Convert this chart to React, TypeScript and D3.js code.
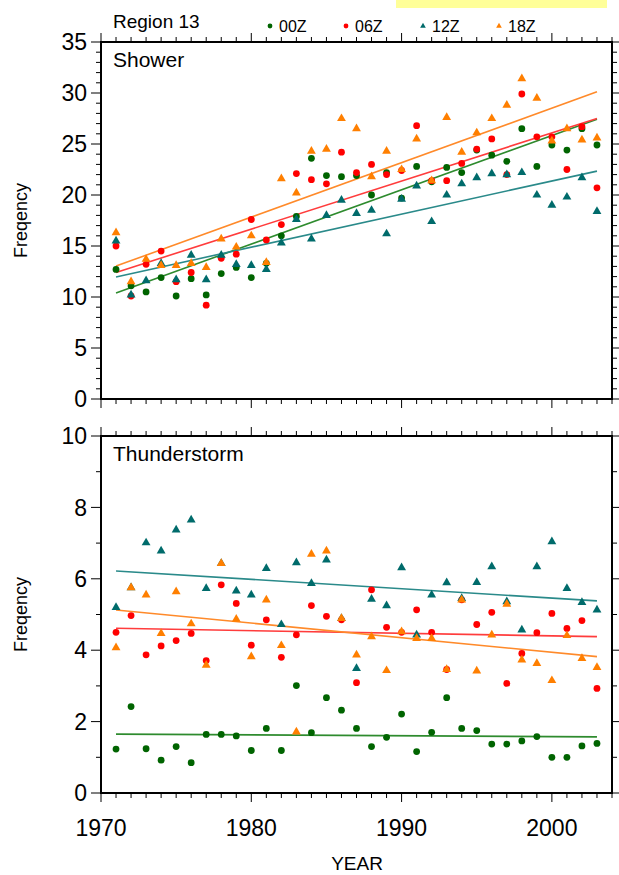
import React from "react";
import * as d3 from "d3";

const years = d3.range(1971, 2004);

// Shower (upper panel)
const shower00 = [12.7, 11.1, 10.5, 11.9, 10.1, 11.8, 10.2, 12.3, 12.9, 11.9, 13.3, 16.0, 17.9, 23.6, 21.9, 21.8, 21.9, 20.0, 22.2, 19.7, 22.8, 21.3, 22.7, 22.2, 24.4, 23.9, 23.3, 26.5, 22.8, 24.9, 24.4, 26.5, 24.9];
const shower06 = [15.0, 10.1, 13.2, 14.5, 11.5, 12.4, 9.2, 13.8, 14.2, 17.6, 15.6, 17.1, 22.1, 21.5, 21.1, 24.2, 22.2, 23.0, 22.0, 22.4, 26.8, 21.4, 21.4, 23.1, 24.5, 25.5, 22.0, 29.9, 25.7, 25.7, 22.5, 26.7, 20.7];
const shower12 = [15.5, 10.2, 11.6, 13.3, 11.7, 14.1, 11.7, 14.1, 13.2, 13.1, 12.7, 15.3, 17.6, 15.7, 18.0, 19.5, 18.2, 18.5, 16.2, 19.6, 20.9, 17.4, 20.0, 21.1, 21.7, 22.1, 22.0, 22.2, 20.0, 19.0, 19.8, 21.7, 18.4];
const shower18 = [16.3, 11.5, 13.7, 13.1, 13.1, 13.3, 12.9, 15.7, 14.9, 16.0, 13.4, 21.6, 20.2, 24.3, 24.5, 27.5, 26.5, 21.8, 24.3, 22.5, 25.5, 21.4, 27.6, 24.2, 26.1, 27.5, 28.8, 31.4, 29.5, 25.3, 26.5, 25.4, 25.6];

// Thunderstorm (lower panel)
const thunder00 = [1.23, 2.42, 1.24, 0.92, 1.30, 0.85, 1.64, 1.64, 1.60, 1.19, 1.81, 1.19, 3.01, 1.69, 2.67, 2.32, 1.81, 1.30, 1.56, 2.21, 1.16, 1.70, 2.67, 1.81, 1.75, 1.37, 1.37, 1.46, 1.58, 1.00, 1.00, 1.32, 1.39];
const thunder06 = [4.50, 4.97, 3.87, 4.12, 4.27, 4.47, 3.71, 5.83, 5.31, 4.14, 4.85, 3.80, 4.43, 5.25, 4.95, 4.85, 3.09, 5.69, 4.64, 4.50, 5.13, 4.50, 3.46, 5.41, 4.72, 5.06, 3.07, 3.91, 4.49, 5.03, 4.61, 4.83, 2.93];
const thunder12 = [5.20, 5.75, 7.01, 6.78, 7.37, 7.65, 5.73, 6.43, 5.66, 5.55, 6.29, 4.72, 6.45, 5.87, 6.53, 4.89, 3.49, 5.43, 5.25, 6.31, 4.43, 5.55, 5.89, 5.45, 5.90, 6.34, 5.36, 4.57, 6.34, 7.04, 5.73, 5.34, 5.13];
const thunder18 = [4.07, 5.75, 5.55, 4.47, 5.64, 4.74, 3.58, 6.43, 4.87, 3.82, 5.41, 4.13, 1.71, 6.69, 6.78, 4.89, 3.87, 4.38, 3.43, 4.52, 4.33, 4.33, 3.46, 5.41, 3.42, 4.43, 5.29, 3.73, 3.63, 3.15, 4.41, 3.77, 3.52];

const seriesNames = ["00Z", "06Z", "12Z", "18Z"];
const pointColors = ["#006400", "#ff0000", "#006b6b", "#ff7f00"];
const lineColors = ["#2e8b2e", "#ff3c3c", "#2a8a8a", "#ff8a2a"];
const isTriangle = [false, false, true, true];

const FONT = "'Liberation Sans', Arial, Helvetica, sans-serif";

function fit(xs: number[], ys: number[]) {
  const mx = d3.mean(xs)!;
  const my = d3.mean(ys)!;
  let sxy = 0, sxx = 0;
  xs.forEach((x, i) => { sxy += (x - mx) * (ys[i] - my); sxx += (x - mx) * (x - mx); });
  const b = sxy / sxx;
  return (x: number) => my + b * (x - mx);
}

const x = d3.scaleLinear().domain([1970, 2004]).range([101, 612]);

function Panel({ y, data, title, major, minor, labelFmt }: any) {
  const [y0, y1] = y.range();
  const top = y1, bottom = y0;
  const left = x.range()[0], right = x.range()[1];
  const xMinor = d3.range(1970, 2005, 1);
  const xMajor = [1970, 1980, 1990, 2000];
  const tri = d3.symbol().type(d3.symbolTriangle).size(34)();
  return (
    <g>
      {/* regression lines */}
      {data.map((vals: number[], i: number) => {
        const f = fit(years, vals);
        return (
          <line key={"l" + i} x1={x(years[0])} x2={x(years[years.length - 1])}
            y1={y(f(years[0]))} y2={y(f(years[years.length - 1]))}
            stroke={lineColors[i]} strokeWidth={1.6} />
        );
      })}
      {/* points */}
      {data.map((vals: number[], i: number) => (
        <g key={"p" + i}>
          {vals.map((v, j) => isTriangle[i] ? (
            <path key={j} d={tri!} transform={`translate(${x(years[j])},${y(v)})`} fill={pointColors[i]} />
          ) : (
            <circle key={j} cx={x(years[j])} cy={y(v)} r={3.4} fill={pointColors[i]} />
          ))}
        </g>
      ))}
      {/* frame */}
      <rect x={left} y={top} width={right - left} height={bottom - top} fill="none" stroke="#000" strokeWidth={2} />
      {/* x ticks top and bottom */}
      {xMinor.map((t) => {
        const len = xMajor.includes(t) ? 9 : 5;
        return (
          <g key={"xt" + t}>
            <line x1={x(t)} x2={x(t)} y1={bottom} y2={bottom + len} stroke="#000" strokeWidth={1} />
            <line x1={x(t)} x2={x(t)} y1={top} y2={top - len} stroke="#000" strokeWidth={1} />
          </g>
        );
      })}
      {/* y ticks left and right */}
      {minor.map((t: number) => {
        const len = major.includes(t) ? 10 : 5;
        return (
          <g key={"yt" + t}>
            <line x1={left} x2={left - len} y1={y(t)} y2={y(t)} stroke="#000" strokeWidth={1} />
            <line x1={right} x2={right + len} y1={y(t)} y2={y(t)} stroke="#000" strokeWidth={1} />
          </g>
        );
      })}
      {major.map((t: number) => (
        <text key={"yl" + t} x={left - 14} y={y(t)} dy="0.36em" textAnchor="end"
          fontFamily={FONT} fontSize={23} fill="#000">{labelFmt(t)}</text>
      ))}
      <text x={113} y={top + 25} fontFamily={FONT} fontSize={21} fill="#000">{title}</text>
      <text transform={`translate(27,${(top + bottom) / 2}) rotate(-90)`} textAnchor="middle"
        fontFamily={FONT} fontSize={18} fill="#000">Freqency</text>
    </g>
  );
}

export default function App() {
  const yTop = d3.scaleLinear().domain([0, 35]).range([399, 42]);
  const yBot = d3.scaleLinear().domain([0, 10]).range([793, 436]);
  const tri = d3.symbol().type(d3.symbolTriangle).size(14)();
  const legendX = [270, 346, 423, 499];
  return (
    <svg width={619} height={875} style={{ position: "absolute", left: 0, top: 0, background: "#fff" }}>
      <rect x={0} y={0} width={619} height={875} fill="#fff" />
      <rect x={396} y={0} width={211} height={8} fill="#ffff99" />
      <text x={113} y={28} fontFamily={FONT} fontSize={19} fill="#000">Region 13</text>
      {seriesNames.map((n, i) => (
        <g key={n}>
          {isTriangle[i]
            ? <path d={tri!} transform={`translate(${legendX[i]},${26})`} fill={pointColors[i]} />
            : <circle cx={legendX[i]} cy={26} r={2.4} fill={pointColors[i]} />}
          <text x={legendX[i] + 9} y={32} fontFamily={FONT} fontSize={16} fill="#000">{n}</text>
        </g>
      ))}
      <Panel y={yTop} data={[shower00, shower06, shower12, shower18]} title="Shower"
        major={d3.range(0, 36, 5)} minor={d3.range(0, 36, 1)} labelFmt={(t: number) => String(t)} />
      <Panel y={yBot} data={[thunder00, thunder06, thunder12, thunder18]} title="Thunderstorm"
        major={d3.range(0, 11, 2)} minor={d3.range(0, 11, 1)} labelFmt={(t: number) => String(t)} />
      {[1970, 1980, 1990, 2000].map((t) => (
        <text key={t} x={x(t)} y={836} textAnchor="middle" fontFamily={FONT} fontSize={23} fill="#000">{t}</text>
      ))}
      <text x={357} y={870} textAnchor="middle" fontFamily={FONT} fontSize={19} fill="#000">YEAR</text>
    </svg>
  );
}
